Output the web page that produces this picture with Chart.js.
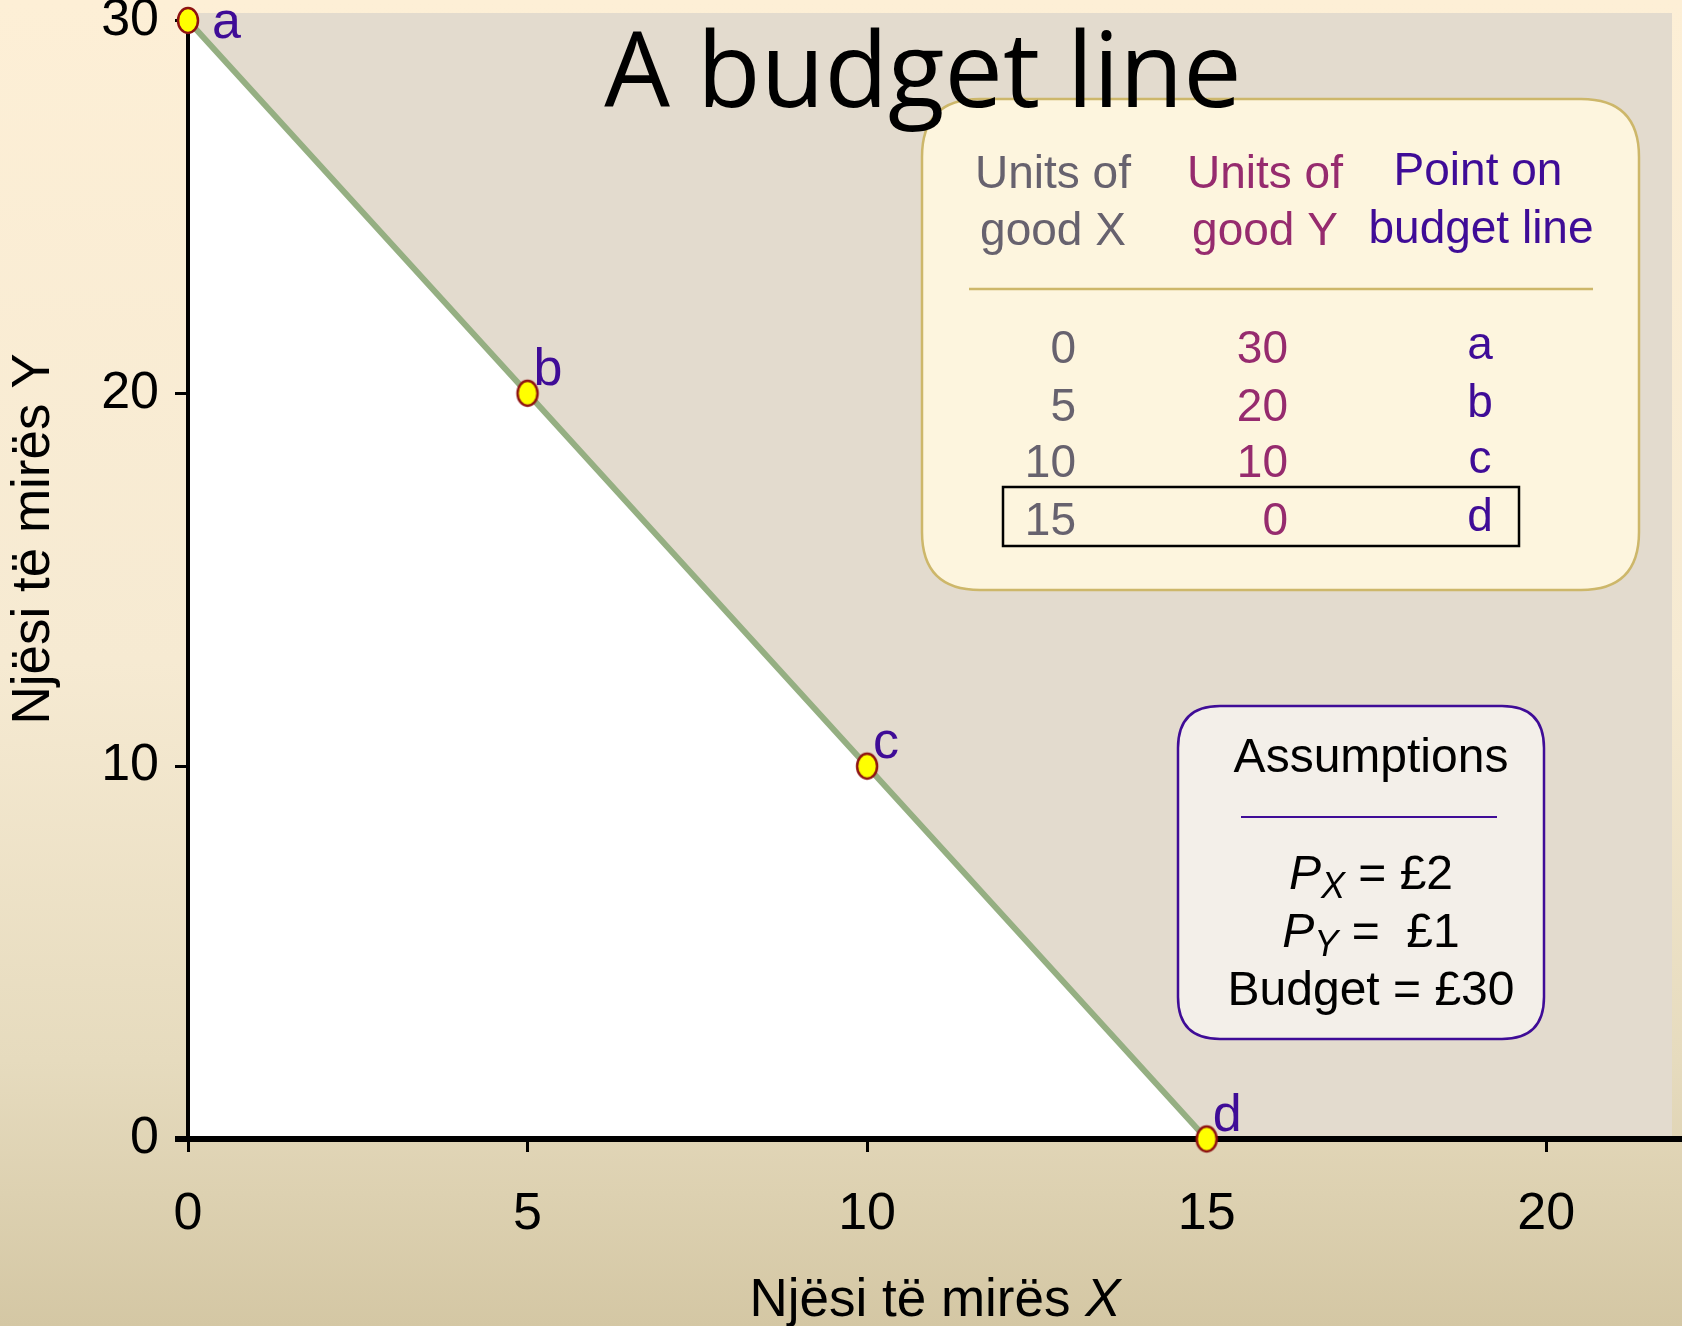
<!DOCTYPE html>
<html>
<head>
<meta charset="utf-8">
<script src="https://cdn.jsdelivr.net/npm/chart.js@4.4.1/dist/chart.umd.min.js"></script>
<style>
html,body{margin:0;padding:0;overflow:hidden;background:#FCEED5;}
#wrap{width:1682px;height:1326px;position:relative;}
</style>
</head>
<body>
<div id="wrap"><canvas id="budgetChart"></canvas></div>
<script>
// data
const unitsX=[0,5,10,15];
const unitsY=[30,20,10,0];
const pointNames=['a','b','c','d'];
const xTicks=[0,5,10,15,20];
const yTicks=[0,10,20,30];
const highlightRow=3;
const prices=[['X','£2'],['Y',' £1']];
const budgetText='Budget = £30';

const FONT="'Liberation Sans', Arial, Helvetica, sans-serif";
const INDIGO='#3F0C97', MAROON='#962B6E', GREYTXT='#67626E', GOLD='#CDB76A';

// yellow ellipse marker
function makeDot(){
  const c=document.createElement('canvas'); c.width=26; c.height=31;
  const g=c.getContext('2d');
  g.beginPath(); g.ellipse(13,15.5,10,12.5,0,0,Math.PI*2);
  g.fillStyle='#FFFF00'; g.fill();
  g.lineWidth=2.5; g.strokeStyle='#8E1212'; g.stroke();
  return c;
}

function roundRect(ctx,x,y,w,h,r){
  ctx.beginPath();
  ctx.moveTo(x+r,y); ctx.lineTo(x+w-r,y); ctx.quadraticCurveTo(x+w,y,x+w,y+r);
  ctx.lineTo(x+w,y+h-r); ctx.quadraticCurveTo(x+w,y+h,x+w-r,y+h);
  ctx.lineTo(x+r,y+h); ctx.quadraticCurveTo(x,y+h,x,y+h-r);
  ctx.lineTo(x,y+r); ctx.quadraticCurveTo(x,y,x+r,y); ctx.closePath();
}

// backgrounds
const bgPlugin={id:'bg',beforeDraw(chart){
  const {ctx,chartArea:a,width,height}=chart;
  ctx.save();
  const gr=ctx.createLinearGradient(0,0,0,height);
  gr.addColorStop(0,'#FDEFD6'); gr.addColorStop(0.5,'#F6EAD2');
  gr.addColorStop(0.8,'#E6DBBE'); gr.addColorStop(1,'#D4C7A4');
  ctx.fillStyle=gr; ctx.fillRect(0,0,width,height);
  ctx.fillStyle='#E3DBCE'; ctx.fillRect(a.left,a.top,a.right-a.left-10,a.bottom-a.top);
  ctx.restore();
}};

// axis lines: over the white fill, under the line and markers
const axisPlugin={id:'axisLines',beforeDatasetDraw(chart,args){
  if(args.index!==0) return;
  const {ctx,chartArea:a,width}=chart;
  const y0=chart.scales.y.getPixelForValue(0), x0=chart.scales.x.getPixelForValue(0);
  const yTop=chart.scales.y.getPixelForValue(Math.max(...yTicks));
  ctx.save(); ctx.strokeStyle='#000';
  ctx.lineWidth=4; ctx.beginPath(); ctx.moveTo(x0,yTop); ctx.lineTo(x0,y0); ctx.stroke();
  ctx.lineWidth=6; ctx.beginPath(); ctx.moveTo(x0-13,y0); ctx.lineTo(width,y0); ctx.stroke();
  ctx.restore();
}};

// letters next to the points
const pointLabelPlugin={id:'ptLabels',afterDatasetsDraw(chart){
  const {ctx}=chart; const meta=chart.getDatasetMeta(0);
  const topVal=Math.max(...unitsY);
  ctx.save(); ctx.fillStyle=INDIGO; ctx.font='52px '+FONT; ctx.textAlign='left'; ctx.textBaseline='alphabetic';
  meta.data.forEach((p,i)=>{
    if(unitsY[i]===topVal) ctx.fillText(pointNames[i],p.x+24,p.y+18);
    else ctx.fillText(pointNames[i],p.x+6,p.y-8);
  });
  ctx.restore();
}};

// table, assumptions, titles
const overlayPlugin={id:'overlay',afterDraw(chart){
  const {ctx}=chart;
  ctx.save();
  // table box
  roundRect(ctx,922,99,717,491,58);
  ctx.fillStyle='#FDF5DE'; ctx.fill();
  ctx.lineWidth=2.5; ctx.strokeStyle=GOLD; ctx.stroke();
  ctx.textBaseline='alphabetic'; ctx.textAlign='center';
  ctx.font='46px '+FONT;
  ctx.fillStyle=GREYTXT; ctx.fillText('Units of',1053,188); ctx.fillText('good X',1053,245);
  ctx.fillStyle=MAROON; ctx.fillText('Units of',1265,188); ctx.fillText('good Y',1265,245);
  ctx.fillStyle=INDIGO; ctx.fillText('Point on',1478,185); ctx.fillText('budget line',1481,243);
  ctx.beginPath(); ctx.moveTo(969,289); ctx.lineTo(1593,289); ctx.lineWidth=2.5; ctx.strokeStyle=GOLD; ctx.stroke();
  const rowY=[363,421,477,535];
  unitsX.forEach((v,i)=>{
    ctx.textAlign='right'; ctx.fillStyle=GREYTXT; ctx.fillText(String(v),1076,rowY[i]);
    ctx.fillStyle=MAROON; ctx.fillText(String(unitsY[i]),1288,rowY[i]);
    ctx.textAlign='center'; ctx.fillStyle=INDIGO; ctx.fillText(pointNames[i],1480,rowY[i]-4);
  });
  ctx.lineWidth=2.5; ctx.strokeStyle='#000'; ctx.strokeRect(1003,rowY[highlightRow]-48,516,59);

  // assumptions box
  roundRect(ctx,1178,706,366,333,42);
  ctx.fillStyle='rgba(244,241,236,0.9)'; ctx.fill();
  ctx.lineWidth=2.5; ctx.strokeStyle=INDIGO; ctx.stroke();
  ctx.fillStyle='#000'; ctx.textAlign='center'; ctx.font='48px '+FONT;
  ctx.fillText('Assumptions',1371,772);
  ctx.beginPath(); ctx.moveTo(1241,817); ctx.lineTo(1497,817); ctx.lineWidth=2; ctx.strokeStyle=INDIGO; ctx.stroke();
  const eqY=[889,947];
  prices.forEach((p,i)=>{
    const big='italic 48px '+FONT, sub='italic 36px '+FONT, reg='48px '+FONT;
    const rest=' = '+p[1];
    ctx.font=big; const w1=ctx.measureText('P').width;
    ctx.font=sub; const w2=ctx.measureText(p[0]).width;
    ctx.font=reg; const w3=ctx.measureText(rest).width;
    let x=1371-(w1+w2+w3)/2;
    ctx.textAlign='left';
    ctx.font=big; ctx.fillText('P',x,eqY[i]); x+=w1;
    ctx.font=sub; ctx.fillText(p[0],x,eqY[i]+9); x+=w2;
    ctx.font=reg; ctx.fillText(rest,x,eqY[i]);
  });
  ctx.textAlign='center'; ctx.font='48px '+FONT; ctx.fillText(budgetText,1371,1005);

  // axis titles
  ctx.fillStyle='#000';
  const xt='Njësi të mirës ', xi='X';
  ctx.font='53px '+FONT; const a1=ctx.measureText(xt).width;
  ctx.font='italic 53px '+FONT; const a2=ctx.measureText(xi).width;
  let tx=935-(a1+a2)/2; ctx.textAlign='left';
  ctx.font='53px '+FONT; ctx.fillText(xt,tx,1316);
  ctx.font='italic 53px '+FONT; ctx.fillText(xi,tx+a1,1316);
  ctx.save(); ctx.translate(49,539); ctx.rotate(-Math.PI/2);
  ctx.textAlign='center'; ctx.font='53px '+FONT; ctx.fillText('Njësi të mirës Y',0,0);
  ctx.restore();

  // main title
  ctx.textAlign='center'; ctx.font="104px 'Open Sans', sans-serif"; ctx.fillStyle='#000';
  ctx.fillText('A budget line',923,107);
  ctx.restore();
}};

function noPad(s){ s.paddingTop=0; s.paddingBottom=0; s.paddingLeft=0; s.paddingRight=0; }

const ctx=document.getElementById('budgetChart').getContext('2d');
const chart=new Chart(ctx,{
  type:'line',
  data:{datasets:[{
    data:unitsX.map((x,i)=>({x:x,y:unitsY[i]})),
    borderColor:'#95AF82',borderWidth:6,
    backgroundColor:'#FFFFFF',fill:'origin',
    pointStyle:makeDot(),pointRadius:12,
    tension:0,clip:false
  }]},
  options:{
    responsive:true,maintainAspectRatio:false,animation:false,
    layout:{autoPadding:false,padding:{top:13,left:0,right:0,bottom:0}},
    plugins:{legend:{display:false},tooltip:{enabled:false},filler:{drawTime:'beforeDatasetsDraw'}},
    scales:{
      x:{type:'linear',min:0,max:22,
        afterBuildTicks:s=>{s.ticks=xTicks.map(v=>({value:v}));},
        afterFit:s=>{s.height=187; noPad(s);},
        border:{display:false},
        grid:{drawOnChartArea:false,drawTicks:true,color:'#000',lineWidth:3,tickLength:13},
        ticks:{color:'#000',font:{family:FONT,size:52},padding:31,maxRotation:0}
      },
      y:{type:'linear',min:0,max:30.2,
        afterBuildTicks:s=>{s.ticks=yTicks.map(v=>({value:v}));},
        afterFit:s=>{s.width=188; noPad(s);},
        border:{display:false},
        grid:{drawOnChartArea:false,drawTicks:true,color:'#000',lineWidth:3,tickLength:13},
        ticks:{color:'#000',font:{family:FONT,size:52},padding:16}
      }
    }
  },
  plugins:[bgPlugin,axisPlugin,pointLabelPlugin,overlayPlugin]
});
</script>
</body>
</html>
